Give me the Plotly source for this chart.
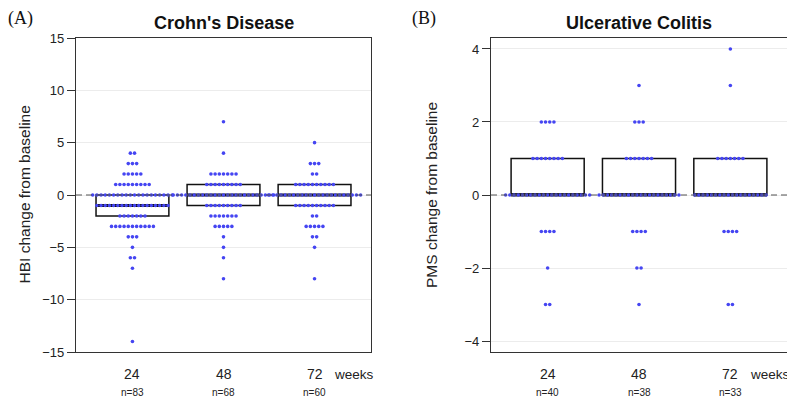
import numpy as np
import plotly.graph_objects as go

weeks = ["24", "48", "72"]
cd_n = [83, 68, 60]
uc_n = [40, 38, 33]

# frequency tables: change value -> number of patients
cd_24_values = [4, 3, 2, 1, 0, -1, -2, -3, -4, -5, -6, -7, -14]
cd_24_counts = [2, 3, 5, 9, 20, 18, 7, 11, 3, 1, 2, 1, 1]
cd_48_values = [7, 4, 2, 1, 0, -1, -2, -3, -4, -5, -6, -8]
cd_48_counts = [1, 1, 7, 9, 25, 9, 7, 5, 1, 1, 1, 1]
cd_72_values = [5, 3, 2, 1, 0, -1, -2, -3, -4, -5, -8]
cd_72_counts = [1, 3, 2, 10, 23, 10, 2, 5, 2, 1, 1]

uc_24_values = [2, 1, 0, -1, -2, -3]
uc_24_counts = [4, 8, 21, 4, 1, 2]
uc_48_values = [3, 2, 1, 0, -1, -2, -3]
uc_48_counts = [1, 3, 7, 20, 4, 2, 1]
uc_72_values = [4, 3, 1, 0, -1, -3]
uc_72_counts = [1, 1, 7, 18, 4, 2]

cd_groups = [(cd_24_values, cd_24_counts), (cd_48_values, cd_48_counts), (cd_72_values, cd_72_counts)]
uc_groups = [(uc_24_values, uc_24_counts), (uc_48_values, uc_48_counts), (uc_72_values, uc_72_counts)]

DOT = "#4545f2"
FRAME = "#333333"
FONT = "Liberation Sans, Arial, sans-serif"
DX = 0.046      # horizontal step between stacked dots (x units)
BOXW = 0.8

# the page body has an 8px margin: the figure is drawn 8px in from the top-left corner
OFF = 8
W, H = 795 - OFF, 399 - OFF


def px_x(x):
    return (x - OFF) / W


def px_y(y):
    return 1 - (y - OFF) / H


fig = go.Figure()


def add_panel(groups, xa, ya):
    xref = "x" if xa == 1 else f"x{xa}"
    yref = "y" if ya == 1 else f"y{ya}"
    for gi, (vals, cnts) in enumerate(groups):
        pos = gi + 1
        data = np.repeat(vals, cnts).astype(float)
        q1, med, q3 = np.percentile(data, [25, 50, 75])
        fig.add_trace(go.Box(
            x=[pos], q1=[q1], median=[med], q3=[q3], lowerfence=[q1], upperfence=[q3],
            width=BOXW, whiskerwidth=0, fillcolor="white",
            line=dict(color="#111111", width=1.5), showlegend=False,
            hoverinfo="skip", xaxis=xref, yaxis=yref, boxpoints=False))
        fig.add_trace(go.Scatter(
            x=[pos - BOXW / 2, pos + BOXW / 2], y=[med, med], mode="lines",
            line=dict(color="#111111", width=3), showlegend=False,
            hoverinfo="skip", xaxis=xref, yaxis=yref))
        xs, ys = [], []
        for v, c in zip(vals, cnts):
            for j in range(c):
                xs.append(pos + (j - (c - 1) / 2) * DX)
                ys.append(v)
        fig.add_trace(go.Scatter(
            x=xs, y=ys, mode="markers",
            marker=dict(color=DOT, size=3.6, line=dict(width=0)),
            showlegend=False, hoverinfo="skip", xaxis=xref, yaxis=yref))


add_panel(cd_groups, 1, 1)
add_panel(uc_groups, 2, 2)

ydom = [px_y(352), px_y(38)]
xdom1 = [px_x(76), px_x(371)]
xdom2 = [px_x(491), px_x(787)]

xcommon = dict(range=[0.38, 3.62], showline=True, mirror=True, linecolor=FRAME, linewidth=1.2,
               showgrid=False, zeroline=False, ticks="", showticklabels=False, fixedrange=True)
ycommon = dict(showline=True, mirror=True, linecolor=FRAME, linewidth=1.2,
               showgrid=True, gridcolor="#ececec", gridwidth=1, zeroline=False,
               ticks="outside", ticklen=8, tickcolor=FRAME, tickwidth=1.2,
               tickfont=dict(family=FONT, size=13, color="#222222"), automargin=False)

fig.update_layout(
    width=W, height=H,
    margin=dict(l=0, r=0, t=0, b=0),
    paper_bgcolor="white", plot_bgcolor="white",
    xaxis=dict(domain=xdom1, anchor="y", **xcommon),
    yaxis=dict(domain=ydom, anchor="x", range=[-15, 15], tickvals=[-15, -10, -5, 0, 5, 10, 15], **ycommon),
    xaxis2=dict(domain=xdom2, anchor="y2", **xcommon),
    yaxis2=dict(domain=ydom, anchor="x2", range=[-4.3, 4.3], tickvals=[-4, -2, 0, 2, 4], **ycommon),
)

# dashed reference lines at zero
for xr, yr in (("x domain", "y"), ("x2 domain", "y2")):
    fig.add_shape(type="line", xref=xr, yref=yr, x0=0, x1=1, y0=0, y1=0,
                  line=dict(color="#555555", width=1.2, dash="6px,4px"), layer="above")

ann = []
ann.append(dict(text="<b>Crohn's Disease</b>", x=2, xref="x", y=px_y(23), yref="paper", yanchor="middle",
                showarrow=False, font=dict(family=FONT, size=18, color="#111111")))
ann.append(dict(text="<b>Ulcerative Colitis</b>", x=2, xref="x2", y=px_y(23), yref="paper", yanchor="middle",
                showarrow=False, font=dict(family=FONT, size=18, color="#111111")))
serif = dict(family="Liberation Serif, Times New Roman, serif", size=18, color="#111111")
ann.append(dict(text="(A)", x=0, xref="paper", xanchor="left", xshift=-2, y=1, yref="paper",
                yanchor="top", yshift=2, showarrow=False, font=serif))
ann.append(dict(text="(B)", x=px_x(410), xref="paper", xanchor="left", y=1, yref="paper",
                yanchor="top", yshift=2, showarrow=False, font=serif))
ann.append(dict(text="HBI change from baseline", x=px_x(13), xref="paper", y=sum(ydom) / 2, yref="paper",
                textangle=-90, showarrow=False, font=dict(family=FONT, size=15.5, color="#222222")))
ann.append(dict(text="PMS change from baseline", x=px_x(431), xref="paper", y=sum(ydom) / 2, yref="paper",
                textangle=-90, showarrow=False, font=dict(family=FONT, size=15.5, color="#222222")))
for xr, ns in (("x", cd_n), ("x2", uc_n)):
    for i, (w, n) in enumerate(zip(weeks, ns)):
        ann.append(dict(text=w, x=i + 1, xref=xr, y=px_y(374), yref="paper", yanchor="middle",
                        showarrow=False, font=dict(family=FONT, size=14, color="#222222")))
        ann.append(dict(text=f"n={n}", x=i + 1, xref=xr, y=px_y(392), yref="paper", yanchor="middle",
                        showarrow=False, font=dict(family=FONT, size=10, color="#222222")))
    ann.append(dict(text="weeks", x=3.19, xref=xr, xanchor="left", y=px_y(374), yref="paper",
                    yanchor="middle", showarrow=False, font=dict(family=FONT, size=13.5, color="#222222")))

fig.update_layout(annotations=ann)
fig.write_html("out.html")
